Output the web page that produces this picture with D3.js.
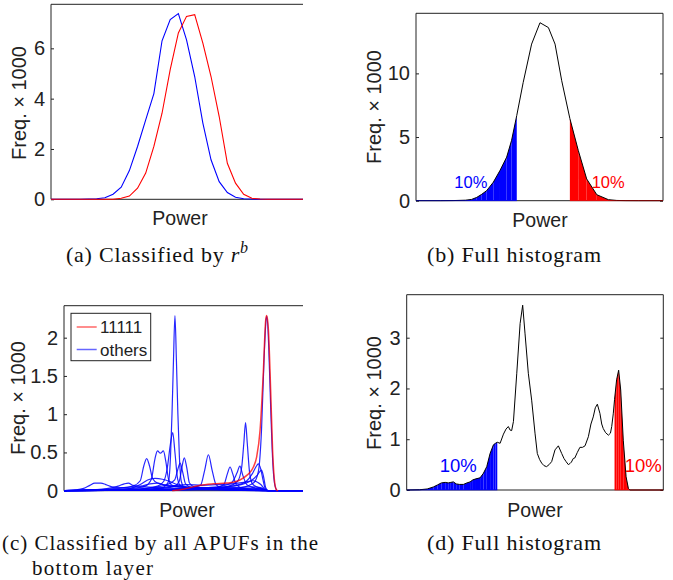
<!DOCTYPE html>
<html><head><meta charset="utf-8">
<script src="https://cdn.jsdelivr.net/npm/d3@7"></script>
<style>body{margin:0;background:#fff}svg{display:block}</style>
</head><body>
<svg id="c" width="673" height="580"></svg>
<script>
// ---------- DATA ----------
// (a) histogram bins (power bin index) and frequencies (x1000)
const binsA = [0,1,2,3,4,5,6,7,8,9,10,11,12,13,14,15,16,17,18,19,20,21,22,23,24,25,26,27,28,29,30,31,32];
const freqA_blue = [0,0,0,0,0,0.01,0.02,0.06,0.2,0.48,1.14,2.1,3.16,4.2,6.3,7.14,7.38,6.34,4.88,3.03,1.57,0.7,0.27,0.08,0.02,0.01,0,0,0,0,0,0,0];
const freqA_red  = [0,0,0,0,0,0,0,0,0,0.04,0.13,0.44,1.04,2.1,3.42,5.15,6.61,7.27,7.34,6.21,4.88,3.29,1.43,0.64,0.2,0.04,0.01,0,0,0,0,0,0];
const ticksA = [0,2,4,6];

// (b) full histogram
const powerB = [0,10,15,20,22.5,24.6,26.6,28.6,31.3,34.0,36.7,38.7,40.8,43.4,46.8,50.2,53.6,56.3,59.0,62.3,65.7,69.1,73.2,77.9,81.3,85,90,100];
const freqB  = [0,0,0.01,0.04,0.1,0.26,0.5,0.79,1.45,2.37,3.42,4.74,6.7,9.29,12.3,13.98,13.6,12.3,9.42,6.45,3.95,1.71,0.47,0.08,0.02,0.005,0,0];
const lowCutB = 12;   // index where low 10% ends
const highCutB = 19;  // index where high 10% begins
const ticksB = [0,5,10];

// (c) classified by all APUFs in the bottom layer
const curve11111 = [[44,0],[48.5,0.02],[52.6,0.05],[55.3,0.07],[60.7,0.09],[66.1,0.1],[68.8,0.11],[71.5,0.14],[74.3,0.2],[77.0,0.31],[78.3,0.44],[79.7,0.79],[81.0,1.53],[82.0,2.23],[82.4,2.29],[83.1,2.1],[84.0,1.32],[84.8,0.53],[85.8,0.07],[86.4,0.01],[87,0]];
const curvesOthers = [
  [[0,0],[20,0.01],[35,0.02],[40,0.04],[42.5,0.12],[43.3,0.45],[43.9,1.0],[44.5,1.7],[45.1,2.29],[45.7,1.7],[46.3,1.0],[46.9,0.45],[47.7,0.12],[49,0.04],[55,0.02],[70,0.01],[84,0],[100,0]],
  [[0,0],[25,0.01],[33,0.03],[38,0.06],[40.5,0.12],[42,0.3],[43.3,0.62],[44.2,0.76],[45.1,0.5],[46.2,0.15],[47.5,0.06],[52,0.03],[65,0.01],[84,0],[100,0]],
  [[0,0],[15,0.01],[28,0.03],[33,0.06],[35.5,0.15],[37,0.42],[38,0.52],[39.2,0.49],[40.4,0.52],[41.4,0.38],[42.5,0.15],[44,0.07],[50,0.04],[60,0.02],[75,0.01],[84,0],[100,0]],
  [[0,0],[10,0.01],[22,0.03],[28,0.06],[31,0.13],[32.4,0.32],[33.6,0.42],[34.8,0.32],[36,0.16],[38,0.1],[42,0.07],[48,0.05],[56,0.03],[70,0.02],[84,0],[100,0]],
  [[0,0],[30,0.01],[40,0.03],[45,0.06],[46.8,0.12],[47.9,0.3],[48.9,0.43],[49.9,0.3],[51,0.1],[53,0.05],[60,0.03],[72,0.02],[84,0],[100,0]],
  [[0,0],[30,0.02],[38,0.05],[42,0.08],[45,0.14],[46.2,0.27],[47.2,0.36],[48.2,0.25],[49.4,0.09],[52,0.04],[60,0.02],[84,0],[100,0]],
  [[0,0],[30,0.01],[45,0.02],[52,0.04],[55.5,0.07],[57.2,0.27],[58.7,0.47],[60.2,0.27],[61.8,0.08],[64,0.04],[72,0.03],[80,0.02],[83,0],[100,0]],
  [[0,0],[40,0.01],[55,0.02],[62,0.04],[65,0.08],[66.4,0.22],[67.5,0.31],[68.6,0.22],[70,0.08],[73,0.03],[80,0.02],[83,0],[100,0]],
  [[0,0],[45,0.01],[60,0.03],[67,0.06],[70.5,0.12],[72.2,0.3],[73.1,0.62],[73.8,0.89],[74.5,0.62],[75.4,0.25],[76.6,0.09],[79,0.04],[82,0.01],[83,0],[100,0]],
  [[0,0],[45,0.02],[58,0.04],[64,0.06],[68,0.1],[70.3,0.23],[71.5,0.32],[72.7,0.2],[74.3,0.08],[77,0.04],[81,0.02],[83,0],[100,0]],
  [[0,0],[50,0.02],[62,0.04],[70,0.07],[74,0.12],[76.5,0.22],[78,0.31],[79,0.35],[80,0.28],[80.9,0.14],[81.8,0.03],[83,0],[100,0]],
  [[0,0],[55,0.02],[66,0.05],[72,0.08],[76,0.13],[78.5,0.2],[80.3,0.27],[81.2,0.17],[82,0.04],[83,0],[100,0]],
  [[0,0],[5,0.01],[8,0.03],[10.5,0.07],[12.5,0.1],[15,0.1],[17,0.08],[19.5,0.05],[23,0.04],[28,0.05],[33,0.05],[38,0.04],[45,0.03],[55,0.02],[70,0.01],[83,0],[100,0]],
  [[0,0],[12,0.01],[18,0.03],[22,0.06],[24.5,0.09],[26.2,0.1],[28,0.07],[31,0.06],[35,0.09],[38,0.1],[41,0.07],[46,0.05],[55,0.03],[70,0.02],[83,0],[100,0]],
  [[0,0],[20,0.01],[27,0.03],[31,0.08],[34,0.14],[37,0.16],[40,0.15],[43,0.12],[46,0.08],[50,0.05],[58,0.04],[68,0.04],[76,0.05],[80,0.04],[82.5,0],[100,0]],
  [[0,0],[30,0.01],[38,0.03],[44,0.06],[50,0.08],[56,0.07],[62,0.08],[68,0.09],[73,0.11],[77,0.13],[80,0.08],[82,0.01],[83,0],[100,0]],
  [[0,0],[60,0.01],[72,0.04],[77,0.1],[79,0.25],[80.3,0.8],[81.3,1.7],[82.2,2.25],[82.5,2.28],[83.2,1.9],[84.0,1.1],[84.9,0.35],[85.8,0.06],[86.8,0],[100,0]]
];
const legendC = ["11111","others"];
const ticksC = [0,0.5,1,1.5,2];

// (d) full histogram
const powerD = [0,5,8,10.4,12,13.5,15,16.2,17.2,18.2,19.3,20.5,22.1,23.5,24.7,25.8,27,28.6,29.9,31.2,32.5,33.8,34.6,35.3,36.4,37.7,38.7,39.6,40.3,40.9,41.6,42.9,44.2,45.2,46.1,47.4,48.7,50.0,50.9,51.8,52.6,53.5,54.5,55.5,56.5,57.8,59.1,60.4,61.3,62.1,63.0,63.6,64.2,64.9,65.5,66.5,67.5,68.5,69.5,70.8,71.8,72.7,73.5,74.3,75.3,76.0,76.6,77.5,78.6,79.4,79.9,80.5,81.0,81.8,82.6,83.4,84.4,85.5,86.4,87,100];
const freqD  = [0,0.005,0.02,0.06,0.1,0.14,0.15,0.14,0.15,0.16,0.12,0.11,0.11,0.14,0.16,0.2,0.22,0.24,0.33,0.46,0.72,0.89,0.92,0.94,0.92,1.1,1.2,1.25,1.18,1.17,1.35,2.3,3.28,3.64,3.09,2.3,1.77,1.12,0.72,0.6,0.53,0.48,0.46,0.5,0.56,0.79,0.87,0.72,0.62,0.56,0.5,0.52,0.55,0.62,0.63,0.74,0.84,0.84,0.87,1.05,1.3,1.44,1.62,1.69,1.51,1.3,1.21,1.13,1.08,1.12,1.25,1.5,1.78,2.17,2.36,1.97,0.98,0.26,0.03,0,0];
const lowCutD = 23;
const highCutD = 72;
const ticksD = [0,1,2,3];

const captions = {
  a: ["(a) Classified by ", "r", "b"],
  b: "(b) Full histogram",
  c: ["(c) Classified by all APUFs in the", "bottom layer"],
  d: "(d) Full histogram"
};

// ---------- DRAWING ----------
const SANS = '"Liberation Sans", Arial, Helvetica, sans-serif';
const SERIF = '"Liberation Serif", "Times New Roman", serif';
const AX = '#222';
const svg = d3.select('#c');
const defs = svg.append('defs');

function makePanel(cfg){
  const x = d3.scaleLinear().domain(cfg.xdomain).range([cfg.left, cfg.right]);
  const y = d3.scaleLinear().domain([0, cfg.ymax]).range([cfg.bottom, cfg.top]);
  const visRight = cfg.clipRight ? cfg.clipRight : cfg.right;
  const clipId = 'clip' + cfg.id;
  defs.append('clipPath').attr('id', clipId).append('rect')
    .attr('x', cfg.left).attr('y', cfg.top - 1)
    .attr('width', visRight - cfg.left).attr('height', cfg.bottom - cfg.top + 2);
  const g = svg.append('g');
  const ax = g.append('g').attr('transform', `translate(${cfg.left},0)`)
    .call(d3.axisLeft(y).tickValues(cfg.ticks).tickSizeInner(-3).tickSizeOuter(0).tickPadding(6).tickFormat(d3.format('')));
  ax.select('.domain').remove();
  ax.selectAll('.tick line').attr('stroke', AX);
  ax.selectAll('.tick text').attr('font-family', SANS).attr('font-size', 20).attr('fill', AX);
  if (!cfg.clipRight) {
    const ar = g.append('g').attr('transform', `translate(${cfg.right},0)`)
      .call(d3.axisRight(y).tickValues(cfg.ticks).tickSizeInner(-3).tickSizeOuter(0).tickFormat(''));
    ar.select('.domain').remove();
    ar.selectAll('.tick line').attr('stroke', AX);
  }
  const fr = g.append('g').attr('stroke', AX).attr('stroke-width', 1).attr('fill', 'none');
  fr.append('line').attr('x1', cfg.left).attr('x2', visRight).attr('y1', cfg.top).attr('y2', cfg.top);
  fr.append('line').attr('x1', cfg.left).attr('x2', visRight).attr('y1', cfg.bottom).attr('y2', cfg.bottom);
  fr.append('line').attr('x1', cfg.left).attr('x2', cfg.left).attr('y1', cfg.top).attr('y2', cfg.bottom);
  if (!cfg.clipRight) fr.append('line').attr('x1', cfg.right).attr('x2', cfg.right).attr('y1', cfg.top).attr('y2', cfg.bottom);
  g.append('text').attr('transform', `translate(${cfg.ylabX},${cfg.ylabY}) rotate(-90)`)
    .attr('text-anchor', 'middle').attr('font-family', SANS).attr('font-size', 20).attr('fill', AX)
    .text('Freq. \u00d7 1000');
  g.append('text').attr('x', cfg.xlabX).attr('y', cfg.xlabY).attr('text-anchor', 'middle')
    .attr('font-family', SANS).attr('font-size', 19.5).attr('fill', AX).text('Power');
  const data = g.append('g').attr('clip-path', `url(#${clipId})`);
  return {x, y, g, data};
}

function fillSlices(layer, xs, vs, i0, i1, color, x, y){
  for (let i = i0; i < i1; i++) {
    const p = [[x(xs[i]), y(0)], [x(xs[i]), y(vs[i])], [x(xs[i+1]), y(vs[i+1])], [x(xs[i+1]), y(0)]];
    layer.append('path').attr('d', 'M' + p.join('L') + 'Z').attr('fill', color);
  }
}

// ----- Panel (a)
{
  const P = makePanel({id:'a', left:51, right:309, clipRight:303, top:4.3, bottom:199.3, ymax:7.75,
    xdomain:[0.4, 32.0], ticks:ticksA, ylabX:26, ylabY:103, xlabX:180, xlabY:224.5});
  const line = d3.line().x((d,i)=>P.x(binsA[i])).y(d=>P.y(d));
  P.data.append('path').attr('d', line(freqA_blue)).attr('fill','none').attr('stroke','#0000ff').attr('stroke-width',1.1);
  P.data.append('path').attr('d', line(freqA_red)).attr('fill','none').attr('stroke','#ff0000').attr('stroke-width',1.1);
}

// ----- Panel (b)
{
  const P = makePanel({id:'b', left:416, right:663, top:13.3, bottom:200.7, ymax:14.72,
    xdomain:[0,100], ticks:ticksB, ylabX:381, ylabY:107, xlabX:540, xlabY:227});
  fillSlices(P.data, powerB, freqB, 0, lowCutB, '#0000ff', P.x, P.y);
  fillSlices(P.data, powerB, freqB, highCutB, powerB.length-1, '#ff0000', P.x, P.y);
  const line = d3.line().x((d,i)=>P.x(powerB[i])).y(d=>P.y(d));
  P.data.append('path').attr('d', line(freqB)).attr('fill','none').attr('stroke','#000').attr('stroke-width',1);
  P.data.append('line').attr('x1',P.x(powerB[0])).attr('x2',P.x(powerB[lowCutB])).attr('y1',P.y(0)).attr('y2',P.y(0)).attr('stroke','#0000ff').attr('stroke-opacity',0.55);
  P.data.append('line').attr('x1',P.x(powerB[highCutB])).attr('x2',P.x(powerB[powerB.length-1])).attr('y1',P.y(0)).attr('y2',P.y(0)).attr('stroke','#ff0000').attr('stroke-opacity',0.55);
  P.g.append('text').attr('x',470.8).attr('y',188.3).attr('text-anchor','middle').attr('font-family',SANS).attr('font-size',16.5).attr('fill','#0000ff').text('10%');
  P.g.append('text').attr('x',608.2).attr('y',188.3).attr('text-anchor','middle').attr('font-family',SANS).attr('font-size',16.5).attr('fill','#ff0000').text('10%');
}

// ----- Panel (c)
{
  const P = makePanel({id:'c', left:64, right:310, clipRight:303, top:305.7, bottom:490.7, ymax:2.418,
    xdomain:[0,100], ticks:ticksC, ylabX:25, ylabY:398, xlabX:187, xlabY:516.5});
  const line = d3.line().x(d=>P.x(d[0])).y(d=>P.y(d[1])).curve(d3.curveMonotoneX);
  curvesOthers.forEach(c => {
    P.data.append('path').attr('d', line(c)).attr('fill','none').attr('stroke','#0000ff').attr('stroke-opacity',0.85).attr('stroke-width',1.2);
  });
  P.data.append('path').attr('d', line(curve11111)).attr('fill','none').attr('stroke','#ff0000').attr('stroke-opacity',0.75).attr('stroke-width',1.5);
  const lg = P.g.append('g');
  lg.append('rect').attr('x',71).attr('y',313.3).attr('width',79.7).attr('height',47.4).attr('fill','#fff').attr('stroke',AX).attr('stroke-width',1);
  const lc = ['#ff0000','#0000ff'];
  legendC.forEach((t,i)=>{
    const yy = 327 + i*22.5;
    lg.append('line').attr('x1',76.7).attr('x2',96.7).attr('y1',yy).attr('y2',yy).attr('stroke',lc[i]).attr('stroke-opacity',0.6).attr('stroke-width',1.5);
    lg.append('text').attr('x',100).attr('y',yy+6.3).attr('font-family',SANS).attr('font-size',17).attr('fill',AX).text(t);
  });
}

// ----- Panel (d)
{
  const P = makePanel({id:'d', left:406.7, right:663.3, top:294.7, bottom:490, ymax:3.847,
    xdomain:[0,100], ticks:ticksD, ylabX:381, ylabY:393, xlabX:535, xlabY:516.5});
  fillSlices(P.data, powerD, freqD, 0, lowCutD, '#0000ff', P.x, P.y);
  fillSlices(P.data, powerD, freqD, highCutD, powerD.length-1, '#ff0000', P.x, P.y);
  const line = d3.line().x((d,i)=>P.x(powerD[i])).y(d=>P.y(d));
  P.data.append('path').attr('d', line(freqD)).attr('fill','none').attr('stroke','#000').attr('stroke-width',1);
  P.data.append('line').attr('x1',P.x(powerD[0])).attr('x2',P.x(powerD[lowCutD])).attr('y1',P.y(0)).attr('y2',P.y(0)).attr('stroke','#0000ff').attr('stroke-opacity',0.55);
  P.data.append('line').attr('x1',P.x(powerD[highCutD])).attr('x2',P.x(powerD[powerD.length-1])).attr('y1',P.y(0)).attr('y2',P.y(0)).attr('stroke','#ff0000').attr('stroke-opacity',0.55);
  P.g.append('text').attr('x',458.3).attr('y',471.7).attr('text-anchor','middle').attr('font-family',SANS).attr('font-size',18.5).attr('fill','#0000ff').text('10%');
  P.g.append('text').attr('x',643.3).attr('y',471.7).attr('text-anchor','middle').attr('font-family',SANS).attr('font-size',18.5).attr('fill','#ff0000').text('10%');
}

// ----- Captions
function caption(x, y, width, build, size){
  const t = svg.append('text').attr('x', x).attr('y', y).attr('font-family', SERIF).attr('font-size', size || 22).attr('fill', '#111');
  build(t);
  t.attr('textLength', width).attr('lengthAdjust', 'spacing');
  return t;
}
caption(66, 262, 182, t => {
  t.append('tspan').text(captions.a[0]);
  t.append('tspan').attr('font-style','italic').text(captions.a[1]);
  t.append('tspan').attr('font-style','italic').attr('font-size',16).attr('dy',-9).text(captions.a[2]);
});
caption(427, 262, 174, t => t.text(captions.b));
caption(2, 550, 316, t => t.text(captions.c[0]), 21);
caption(32, 575, 121, t => t.text(captions.c[1]), 21);
caption(427, 550, 174, t => t.text(captions.d));
</script>
</body></html>
